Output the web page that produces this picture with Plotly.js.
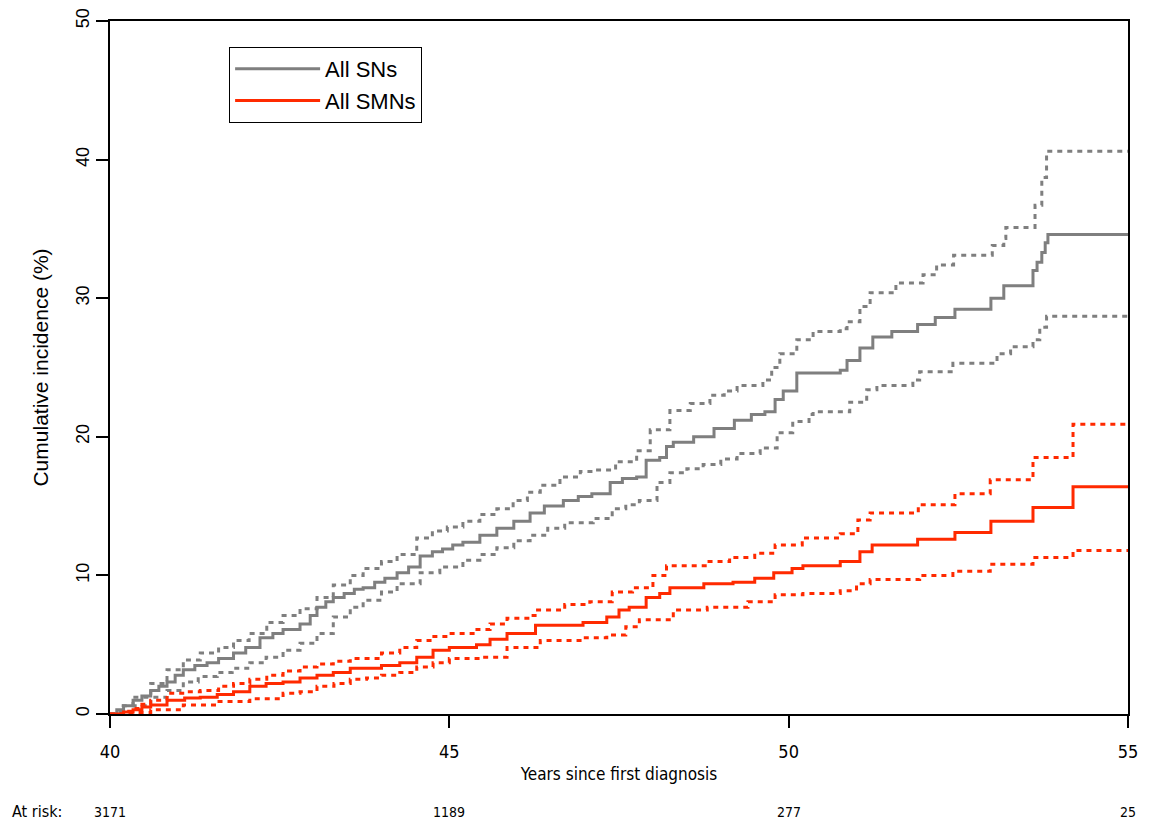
<!DOCTYPE html>
<html>
<head>
<meta charset="utf-8">
<script src="https://cdn.plot.ly/plotly-3.0.1.min.js"></script>
<style>
html,body{margin:0;padding:0;background:#fff;}
#chart{width:1152px;height:827px;}
</style>
</head>
<body>
<div id="chart"></div>
<script>
// ---- Data (years since first diagnosis, cumulative incidence %) ----
var snYears = [40,40.1,40.2,40.34,40.47,40.6,40.72,40.84,40.96,41.08,41.25,41.43,41.6,41.82,42.0,42.21,42.4,42.55,42.8,42.95,43.05,43.18,43.29,43.45,43.6,43.73,43.9,44.05,44.23,44.4,44.57,44.75,44.9,45.05,45.2,45.45,45.7,45.95,46.19,46.4,46.68,46.9,47.1,47.37,47.55,47.76,47.9,48.1,48.2,48.3,48.6,48.9,49.2,49.45,49.65,49.8,49.92,50.12,50.76,50.86,51.05,51.24,51.52,51.9,52.16,52.45,52.98,53.17,53.6,53.66,53.73,53.78,53.82,55];
var snCI     = [0,0.3,0.6,1.0,1.3,1.7,2.0,2.3,2.8,3.2,3.5,3.7,4.0,4.4,4.8,5.5,5.8,6.1,6.5,7.1,7.7,8.1,8.4,8.7,9.0,9.1,9.5,9.8,10.2,10.6,11.4,11.7,11.9,12.2,12.4,12.9,13.4,13.9,14.5,15.0,15.4,15.7,15.9,16.7,17.0,17.1,18.3,18.5,19.3,19.6,20.0,20.6,21.2,21.6,21.8,22.7,23.3,24.6,24.8,25.5,26.4,27.2,27.6,28.1,28.6,29.2,30.0,30.9,32.0,32.6,33.3,34.0,34.6,34.6];

var snUpYears = [40,40.15,40.34,40.6,40.84,41.08,41.33,41.6,41.82,42.05,42.31,42.55,42.8,43.05,43.29,43.54,43.73,44.0,44.23,44.52,44.75,44.97,45.2,45.45,45.7,45.94,46.15,46.34,46.63,46.93,47.12,47.45,47.76,47.96,48.25,48.55,48.84,49.05,49.24,49.62,49.75,49.87,50.12,50.36,50.76,50.86,51.05,51.2,51.58,51.98,52.18,52.43,53.0,53.17,53.2,53.63,53.73,53.8,55];
var snUpCI    = [0,0.6,1.2,2.2,3.2,3.9,4.4,4.8,5.3,5.8,6.6,7.1,7.6,8.4,9.3,10.0,10.5,11.0,11.5,12.7,13.2,13.5,13.9,14.4,14.8,15.4,16.0,16.5,17.1,17.5,17.6,18.2,19.0,20.5,21.9,22.4,23.0,23.3,23.7,24.1,25.0,26.0,27.0,27.6,27.8,28.3,29.4,30.4,31.1,31.7,32.4,33.1,33.8,34.3,35.1,36.7,38.7,40.6,40.6];

var snLoYears = [40,40.15,40.34,40.6,40.84,41.08,41.3,41.58,41.8,42.06,42.3,42.55,42.8,43.05,43.29,43.54,43.73,44.0,44.23,44.57,44.86,45.2,45.45,45.7,45.95,46.19,46.45,46.7,47.12,47.4,47.6,47.8,48.06,48.25,48.5,48.74,49.0,49.24,49.58,49.83,50.06,50.3,50.36,50.9,51.15,51.3,51.83,51.93,52.42,53.07,53.27,53.6,53.7,53.8,55];
var snLoCI    = [0,0.15,0.6,1.2,1.7,2.3,2.7,3.0,3.3,3.7,4.1,4.6,5.1,5.8,7.0,7.7,8.2,8.8,9.4,10.2,10.6,11.1,11.5,12.0,12.5,12.9,13.4,13.8,14.1,14.8,15.1,15.4,16.7,17.4,17.7,18.0,18.4,18.8,19.2,20.3,21.1,21.6,21.8,22.5,23.4,23.7,24.1,24.7,25.3,26.0,26.5,27.0,27.9,28.7,28.7];

var smnYears = [40,40.2,40.34,40.47,40.6,40.84,41.1,41.33,41.58,41.82,42.06,42.3,42.55,42.8,43.05,43.29,43.54,44.0,44.27,44.52,44.76,45.0,45.4,45.6,45.85,46.27,46.97,47.32,47.5,47.65,47.9,48.1,48.25,48.75,49.18,49.5,49.78,50.05,50.21,50.76,51.05,51.23,51.9,52.45,52.98,53.6,54.19,55];
var smnCI    = [0,0.15,0.3,0.5,0.65,1.0,1.15,1.2,1.4,1.6,2.0,2.2,2.3,2.6,2.8,3.0,3.3,3.5,3.7,4.1,4.6,4.8,5.0,5.4,5.8,6.4,6.6,7.0,7.5,7.7,8.4,8.7,9.1,9.4,9.5,9.8,10.2,10.5,10.7,11.0,11.7,12.2,12.6,13.1,13.9,14.9,16.4,16.4];

var smnUpYears = [40,40.2,40.34,40.47,40.6,40.84,41.1,41.33,41.6,41.82,42.06,42.31,42.55,42.8,43.05,43.29,43.54,44.0,44.27,44.52,44.75,45.0,45.35,45.6,45.85,46.19,46.3,46.7,47.07,47.4,47.7,48.0,48.2,48.8,49.13,49.5,49.8,50.2,50.76,51.02,51.2,51.91,52.45,52.97,53.6,54.19,55];
var smnUpCI    = [0,0.2,0.4,0.7,1.0,1.5,1.6,1.7,2.0,2.2,2.5,2.8,3.1,3.4,3.6,3.8,4.0,4.4,4.8,5.3,5.6,5.8,6.1,6.5,6.9,7.1,7.5,7.9,8.1,8.8,9.1,10.0,10.7,11.0,11.3,11.6,12.2,12.7,13.0,14.0,14.5,15.1,15.9,16.9,18.5,20.9,20.9];

var smnLoYears = [40,40.3,40.6,41.08,41.58,42.06,42.55,42.8,43.05,43.3,43.54,43.78,44.0,44.27,44.52,44.76,45.0,45.45,45.85,46.34,46.97,47.32,47.6,47.8,48.3,48.8,49.4,49.8,50.21,50.76,51.0,51.2,51.93,52.42,52.97,53.6,54.19,55];
var smnLoCI    = [0,0.1,0.3,0.65,0.9,1.1,1.5,1.6,2.0,2.2,2.5,2.6,2.8,3.0,3.4,3.7,4.0,4.1,4.8,5.3,5.5,5.7,6.3,6.8,7.5,7.7,8.1,8.6,8.7,8.9,9.4,9.7,10.0,10.3,10.8,11.3,11.8,11.8];

var seriesNames = ["All SNs", "All SMNs"];
var xTicks = [40, 45, 50, 55];
var yTicks = [0, 10, 20, 30, 40, 50];
var atRiskYears = [40, 45, 50, 55];
var atRiskCounts = ["3171", "1189", "277", "25"];

// ---- Styling ----
var GRAY = "#7f7f7f";
var RED = "#ff2a00";
var NARROW = "'DejaVu Sans Condensed', 'Liberation Sans Narrow', 'Liberation Sans', Arial, sans-serif";
var SANS = "'Liberation Sans', Arial, sans-serif";
var DOTS = "5px,5px";

function stepTrace(x, y, color, dash, name, show) {
  return {
    type: "scatter", mode: "lines", x: x, y: y, name: name,
    showlegend: show, hoverinfo: "skip",
    line: {shape: "hv", color: color, width: 3, dash: dash || "solid"}
  };
}

var traces = [
  stepTrace(snUpYears, snUpCI, GRAY, DOTS, seriesNames[0] + " upper", false),
  stepTrace(snLoYears, snLoCI, GRAY, DOTS, seriesNames[0] + " lower", false),
  stepTrace(smnUpYears, smnUpCI, RED, DOTS, seriesNames[1] + " upper", false),
  stepTrace(smnLoYears, smnLoCI, RED, DOTS, seriesNames[1] + " lower", false),
  stepTrace(snYears, snCI, GRAY, null, seriesNames[0], true),
  stepTrace(smnYears, smnCI, RED, null, seriesNames[1], true)
];

var annotations = [{
  xref: "paper", yref: "paper", x: -0.098, y: -0.1414,
  xanchor: "left", yanchor: "middle", showarrow: false,
  text: "At risk:", font: {family: NARROW, size: 16, color: "#000"}
}];
for (var i = 0; i < atRiskYears.length; i++) {
  annotations.push({
    xref: "x", yref: "paper", x: atRiskYears[i], y: -0.1414,
    xanchor: "center", yanchor: "middle", showarrow: false,
    text: atRiskCounts[i], font: {family: NARROW, size: 14, color: "#000"}
  });
}

var layout = {
  width: 1152, height: 827,
  margin: {l: 110, r: 24, t: 21, b: 113},
  paper_bgcolor: "#fff", plot_bgcolor: "#fff",
  showlegend: true,
  legend: {
    x: 0.117, y: 0.9625, xanchor: "left", yanchor: "top",
    bgcolor: "#fff", bordercolor: "#000", borderwidth: 1,
    font: {family: SANS, size: 22, color: "#000"},
    itemwidth: 85, traceorder: "normal", tracegroupgap: 0
  },
  xaxis: {
    range: [40, 55], tickvals: xTicks, ticktext: xTicks.map(String),
    showgrid: false, zeroline: false,
    showline: true, linecolor: "#000", linewidth: 2, mirror: true,
    ticks: "outside", ticklen: 12, tickwidth: 2, tickcolor: "#000",
    ticklabelstandoff: 8,
    tickfont: {family: NARROW, size: 18, color: "#000"},
    title: {text: "Years since first diagnosis", font: {family: NARROW, size: 17, color: "#000"}, standoff: 8}
  },
  yaxis: {
    range: [0, 50], tickvals: yTicks, ticktext: yTicks.map(String),
    showgrid: false, zeroline: false,
    showline: true, linecolor: "#000", linewidth: 2, mirror: true,
    ticks: "outside", ticklen: 12, tickwidth: 2, tickcolor: "#000",
    tickangle: -90,
    tickfont: {family: SANS, size: 18, color: "#000"},
    title: {text: "Cumulative incidence (%)", font: {family: SANS, size: 21, color: "#000"}, standoff: 18}
  },
  annotations: annotations
};

Plotly.newPlot("chart", traces, layout, {displayModeBar: false, staticPlot: true});
</script>
</body>
</html>
